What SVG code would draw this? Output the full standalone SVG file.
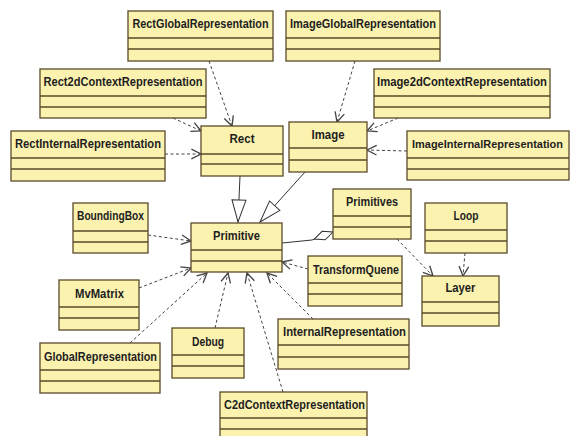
<svg xmlns="http://www.w3.org/2000/svg" width="570" height="436" viewBox="0 0 570 436">
<style>
.box rect{fill:#fbf2b0;stroke:#5a4a28;stroke-width:1.3}
.box line{stroke:#5a4a28;stroke-width:1.3}
.box text{font-family:"Liberation Sans",Arial,sans-serif;font-weight:bold;font-size:12.5px;fill:#1e1e1e;text-anchor:middle}
.dep{fill:none;stroke:#444;stroke-width:1;stroke-dasharray:3,2.5;marker-end:url(#open)}
.gen{fill:none;stroke:#333;stroke-width:1;marker-end:url(#tri)}
.agg{fill:none;stroke:#333;stroke-width:1;marker-end:url(#dia)}
</style>
<defs>
<marker id="open" markerUnits="userSpaceOnUse" markerWidth="12" markerHeight="12" viewBox="0 0 10 10" refX="9" refY="5" orient="auto">
<path d="M1,1 L9,5 L1,9" fill="none" stroke="#444" stroke-width="1.1"/>
</marker>
<marker id="tri" markerUnits="userSpaceOnUse" markerWidth="24" markerHeight="16" viewBox="0 0 24 16" refX="23" refY="8" orient="auto">
<path d="M1,1 L23,8 L1,15 Z" fill="#fff" stroke="#333" stroke-width="1"/>
</marker>
<marker id="dia" markerUnits="userSpaceOnUse" markerWidth="22" markerHeight="12" viewBox="0 0 22 12" refX="21" refY="6" orient="auto">
<path d="M1,6 L11,1.5 L21,6 L11,10.5 Z" fill="#fff" stroke="#333" stroke-width="1"/>
</marker>
</defs>
<rect width="570" height="436" fill="#fff"/>
<g id="connectors">
<path class="gen" d="M240,176 L238,222"/>
<path class="gen" d="M305,172 L260,222"/>
<path class="agg" d="M282,243 L312,240 L333,232"/>
<path class="dep" d="M209,61 L232,126"/>
<path class="dep" d="M173,118 L201,131"/>
<path class="dep" d="M165,154 L201,154"/>
<path class="dep" d="M355,61 L337,122"/>
<path class="dep" d="M398,118 L367,131"/>
<path class="dep" d="M407,151 L367,150"/>
<path class="dep" d="M397,239 L433,276"/>
<path class="dep" d="M465,253 L463,276"/>
<path class="dep" d="M148,235 L191,241"/>
<path class="dep" d="M139,288 L191,268"/>
<path class="dep" d="M130,343 L207,273"/>
<path class="dep" d="M215,328 L228,273"/>
<path class="dep" d="M283,392 L247,273"/>
<path class="dep" d="M313,319 L267,273"/>
<path class="dep" d="M308,269 L282,262"/>
</g>
<g id="RectGlobalRepresentation" class="box"><rect x="128" y="11" width="145" height="50"/><line x1="128" y1="38" x2="273" y2="38"/><line x1="128" y1="49" x2="273" y2="49"/><text x="200.5" y="28" textLength="136" lengthAdjust="spacingAndGlyphs">RectGlobalRepresentation</text></g>
<g id="Rect2dContextRepresentation" class="box"><rect x="40" y="69" width="166" height="49"/><line x1="40" y1="96" x2="206" y2="96"/><line x1="40" y1="107" x2="206" y2="107"/><text x="123" y="86" textLength="159" lengthAdjust="spacingAndGlyphs">Rect2dContextRepresentation</text></g>
<g id="RectInternalRepresentation" class="box"><rect x="11" y="131" width="154" height="50"/><line x1="11" y1="158" x2="165" y2="158"/><line x1="11" y1="169" x2="165" y2="169"/><text x="88" y="148" textLength="146" lengthAdjust="spacingAndGlyphs">RectInternalRepresentation</text></g>
<g id="Rect" class="box"><rect x="201" y="126" width="82" height="50"/><line x1="201" y1="154" x2="283" y2="154"/><line x1="201" y1="164" x2="283" y2="164"/><text x="242" y="143" textLength="25" lengthAdjust="spacingAndGlyphs">Rect</text></g>
<g id="ImageGlobalRepresentation" class="box"><rect x="286" y="11" width="154" height="50"/><line x1="286" y1="38" x2="440" y2="38"/><line x1="286" y1="49" x2="440" y2="49"/><text x="363" y="28" textLength="146" lengthAdjust="spacingAndGlyphs">ImageGlobalRepresentation</text></g>
<g id="Image2dContextRepresentation" class="box"><rect x="374" y="69" width="176" height="49"/><line x1="374" y1="96" x2="550" y2="96"/><line x1="374" y1="107" x2="550" y2="107"/><text x="462" y="86" textLength="170" lengthAdjust="spacingAndGlyphs">Image2dContextRepresentation</text></g>
<g id="Image" class="box"><rect x="289" y="122" width="78" height="50"/><line x1="289" y1="148" x2="367" y2="148"/><line x1="289" y1="160" x2="367" y2="160"/><text x="328" y="139" textLength="33" lengthAdjust="spacingAndGlyphs">Image</text></g>
<g id="ImageInternalRepresentation" class="box"><rect x="407" y="131" width="162" height="49"/><line x1="407" y1="158" x2="569" y2="158"/><line x1="407" y1="169" x2="569" y2="169"/><text x="487.5" y="148" style="font-size:11.5px" textLength="151" lengthAdjust="spacingAndGlyphs">ImageInternalRepresentation</text></g>
<g id="Primitives" class="box"><rect x="333" y="189" width="78" height="50"/><line x1="333" y1="216" x2="411" y2="216"/><line x1="333" y1="227" x2="411" y2="227"/><text x="372" y="206" textLength="52" lengthAdjust="spacingAndGlyphs">Primitives</text></g>
<g id="Loop" class="box"><rect x="425" y="203" width="82" height="50"/><line x1="425" y1="230" x2="507" y2="230"/><line x1="425" y1="241" x2="507" y2="241"/><text x="466" y="220" textLength="25" lengthAdjust="spacingAndGlyphs">Loop</text></g>
<g id="Layer" class="box"><rect x="422" y="276" width="77" height="50"/><line x1="422" y1="302" x2="499" y2="302"/><line x1="422" y1="313" x2="499" y2="313"/><text x="460.5" y="292" textLength="30" lengthAdjust="spacingAndGlyphs">Layer</text></g>
<g id="Primitive" class="box"><rect x="191" y="223" width="91" height="49"/><line x1="191" y1="250" x2="282" y2="250"/><line x1="191" y1="261" x2="282" y2="261"/><text x="236.5" y="240" textLength="47" lengthAdjust="spacingAndGlyphs">Primitive</text></g>
<g id="BoundingBox" class="box"><rect x="73" y="203" width="75" height="50"/><line x1="73" y1="231" x2="148" y2="231"/><line x1="73" y1="242" x2="148" y2="242"/><text x="110.5" y="220" textLength="67" lengthAdjust="spacingAndGlyphs">BoundingBox</text></g>
<g id="TransformQuene" class="box"><rect x="308" y="256" width="94" height="50"/><line x1="308" y1="283" x2="402" y2="283"/><line x1="308" y1="294" x2="402" y2="294"/><text x="356" y="274" textLength="86" lengthAdjust="spacingAndGlyphs">TransformQuene</text></g>
<g id="MvMatrix" class="box"><rect x="59" y="280" width="80" height="50"/><line x1="59" y1="307" x2="139" y2="307"/><line x1="59" y1="318" x2="139" y2="318"/><text x="99.5" y="298" textLength="49" lengthAdjust="spacingAndGlyphs">MvMatrix</text></g>
<g id="InternalRepresentation" class="box"><rect x="278" y="319" width="131" height="50"/><line x1="278" y1="345" x2="409" y2="345"/><line x1="278" y1="357" x2="409" y2="357"/><text x="344.5" y="336" textLength="123" lengthAdjust="spacingAndGlyphs">InternalRepresentation</text></g>
<g id="Debug" class="box"><rect x="172" y="328" width="72" height="50"/><line x1="172" y1="355" x2="244" y2="355"/><line x1="172" y1="366" x2="244" y2="366"/><text x="208" y="346" textLength="32" lengthAdjust="spacingAndGlyphs">Debug</text></g>
<g id="GlobalRepresentation" class="box"><rect x="40" y="343" width="120" height="50"/><line x1="40" y1="370" x2="160" y2="370"/><line x1="40" y1="381" x2="160" y2="381"/><text x="100.5" y="361" textLength="113" lengthAdjust="spacingAndGlyphs">GlobalRepresentation</text></g>
<g id="C2dContextRepresentation" class="box"><rect x="220" y="392" width="147" height="50"/><line x1="220" y1="418" x2="367" y2="418"/><line x1="220" y1="429" x2="367" y2="429"/><text x="294.5" y="409" textLength="141" lengthAdjust="spacingAndGlyphs">C2dContextRepresentation</text></g>
</svg>
